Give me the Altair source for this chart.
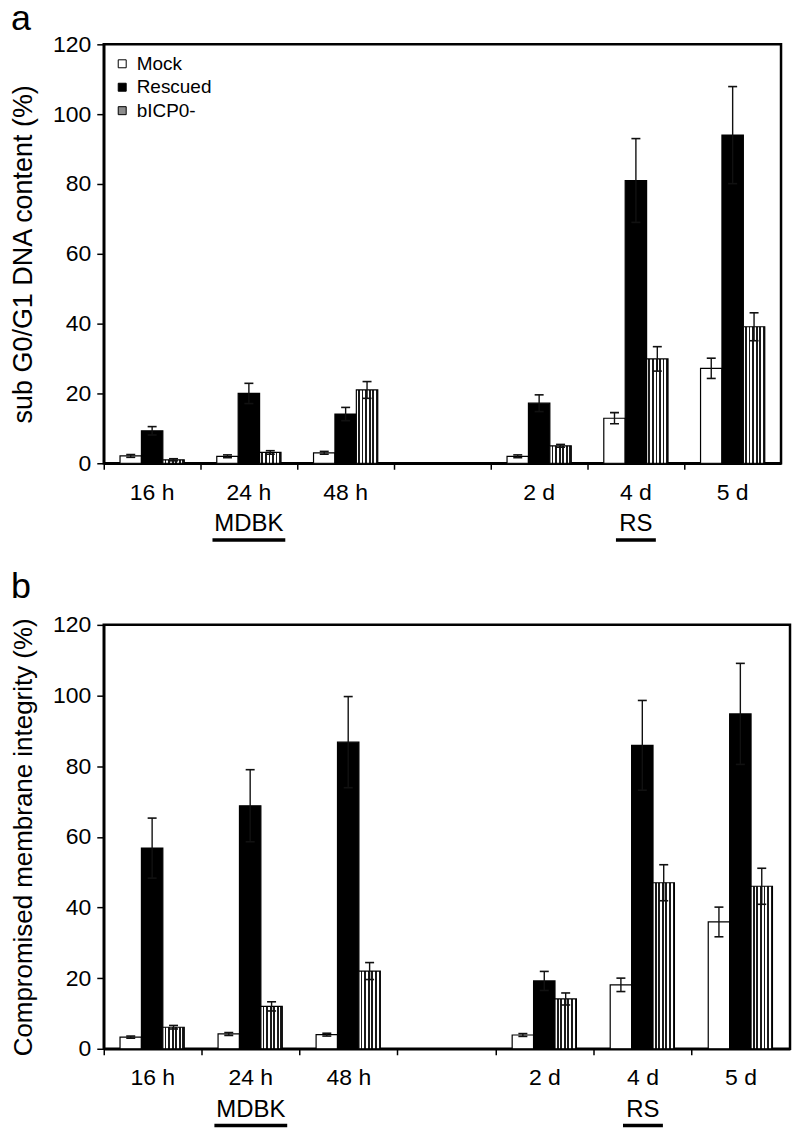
import altair as alt
import pandas as pd

FONT = "Liberation Sans"

categories = ["16 h", "24 h", "48 h", " ", "2 d", "4 d", "5 d"]
time_points = ["16 h", "24 h", "48 h", "2 d", "4 d", "5 d"]
series = ["Mock", "Rescued", "bICP0-"]

# Panel a: sub G0/G1 DNA content (%)
a_mock = [2.1, 2.0, 3.0, 2.0, 12.9, 27.2]
a_mock_err = [0.4, 0.4, 0.4, 0.4, 1.6, 2.9]
a_rescued = [9.3, 20.0, 14.1, 17.2, 81.0, 94.0]
a_rescued_err = [1.2, 2.9, 1.9, 2.4, 12.0, 13.9]
a_bicp0 = [1.0, 3.1, 21.0, 5.0, 29.9, 39.1]
a_bicp0_err = [0.3, 0.5, 2.4, 0.4, 3.5, 4.0]

# Panel b: compromised membrane integrity (%)
b_mock = [3.3, 4.2, 4.0, 3.9, 18.1, 35.9]
b_mock_err = [0.3, 0.4, 0.4, 0.4, 1.9, 4.2]
b_rescued = [56.8, 68.8, 86.8, 19.2, 85.9, 94.8]
b_rescued_err = [8.5, 10.2, 12.9, 2.7, 12.7, 14.3]
b_bicp0 = [6.1, 12.0, 22.0, 14.1, 47.0, 46.0]
b_bicp0_err = [0.5, 1.3, 2.4, 1.7, 5.1, 5.1]

group_times = ["24 h", "4 d"]
group_names = ["MDBK", "RS"]
panel_letters = ["a", "b"]


def long_df(vals, errs):
    rows = []
    for s, v, e in zip(series, vals, errs):
        for t, vv, ee in zip(time_points, v, e):
            rows.append({"time": t, "series": s, "value": vv,
                         "lo": vv - ee, "hi": vv + ee})
    return pd.DataFrame(rows)


df_a = long_df([a_mock, a_rescued, a_bicp0], [a_mock_err, a_rescued_err, a_bicp0_err])
df_b = long_df([b_mock, b_rescued, b_bicp0], [b_mock_err, b_rescued_err, b_bicp0_err])
df_groups = pd.DataFrame({"time": group_times, "label": group_names})

# striped fill imitating the hatch pattern
stops = []
n = 6
for i in range(n):
    s0 = i / n
    mid = s0 + 0.5 / n
    s1 = (i + 1) / n
    stops += [alt.GradientStop(offset=s0, color="white"),
              alt.GradientStop(offset=mid, color="white"),
              alt.GradientStop(offset=mid, color="#1a1a1a"),
              alt.GradientStop(offset=s1, color="#1a1a1a")]
pattern = alt.LinearGradient(gradient="linear", stops=stops, x1=0, x2=1, y1=0, y2=0)

underline_w = {"MDBK": 73, "RS": 40}


def panel(df, W, H, ytitle, title_fs, title_pad, letter, pad_outer, lx, ly, loff, letter_y):
    xscale = alt.Scale(domain=categories, paddingInner=0, paddingOuter=0)
    xaxis = alt.Axis(title=None, bandPosition=0,
                     tickSize=6, tickWidth=1.5, tickColor="black",
                     domainColor="black", domainWidth=2.5,
                     labelFont=FONT, labelFontSize=23, labelColor="black",
                     labelPadding=30, labelBaseline="alphabetic", labelAngle=0,
                     grid=False)
    yscale = alt.Scale(domain=[0, 120], nice=False)
    yaxis = alt.Axis(title=ytitle, values=[0, 20, 40, 60, 80, 100, 120],
                     titleFont=FONT, titleFontSize=title_fs, titleFontWeight="normal",
                     titleColor="black", titlePadding=title_pad,
                     tickSize=7, tickWidth=1.5, tickColor="black",
                     domainColor="black", domainWidth=2.5,
                     labelFont=FONT, labelFontSize=23, labelColor="black",
                     labelPadding=6, grid=False)

    def X():
        return alt.X("time:N", scale=xscale, axis=xaxis)

    def XO():
        return alt.XOffset("series:N", scale=alt.Scale(domain=series, paddingInner=0,
                                                        paddingOuter=pad_outer))

    def Y(field):
        return alt.Y(field, scale=yscale, axis=yaxis, title=ytitle)

    base = alt.Chart(df)
    fill = alt.Fill("series:N",
                    scale=alt.Scale(domain=series, range=["white", "black", "#8c8c8c"]),
                    legend=alt.Legend(title=None, orient="none", legendX=lx, legendY=ly,
                                      symbolType="square", symbolSize=64,
                                      symbolStrokeColor="black", symbolStrokeWidth=1,
                                      labelFont=FONT, labelFontSize=19, labelColor="black",
                                      labelOffset=loff, rowPadding=3.5, padding=0))
    mock = base.transform_filter(alt.datum.series == "Mock").mark_bar(
        stroke="black", strokeWidth=1.2).encode(x=X(), xOffset=XO(), y=Y("value:Q"), fill=fill)
    resc = base.transform_filter(alt.datum.series == "Rescued").mark_bar(
        stroke="black", strokeWidth=1.2).encode(x=X(), xOffset=XO(), y=Y("value:Q"), fill=fill)
    bicp = base.transform_filter(alt.datum.series == "bICP0-").mark_bar(
        fill=pattern, stroke="black", strokeWidth=1.2).encode(x=X(), xOffset=XO(), y=Y("value:Q"))
    err = base.mark_rule(color="#111111", strokeWidth=1.4).encode(
        x=X(), xOffset=XO(), y=Y("lo:Q"), y2="hi:Q")
    cap_hi = base.mark_tick(color="#111111", thickness=1.6, size=9, opacity=1).encode(
        x=X(), xOffset=XO(), y=Y("hi:Q"))
    cap_lo = base.mark_tick(color="#111111", thickness=1.6, size=9, opacity=1).encode(
        x=X(), xOffset=XO(), y=Y("lo:Q"))
    gtext = alt.Chart(df_groups).mark_text(
        font=FONT, fontSize=24, baseline="alphabetic", align="center", color="black"
    ).encode(x=X(), y=alt.value(H + 68), text="label:N")
    layers = [mock, resc, bicp, err, cap_hi, cap_lo, gtext]
    for name in group_names:
        ul = alt.Chart(df_groups).transform_filter(alt.datum.label == name).mark_tick(
            orient="horizontal", size=underline_w[name], thickness=3.5, color="black",
            opacity=1
        ).encode(x=X(), y=alt.value(H + 77))
        layers.append(ul)
    letter_mark = alt.Chart(pd.DataFrame({"t": [letter]})).mark_text(
        font=FONT, fontSize=36, baseline="alphabetic", align="left", color="black"
    ).encode(text="t:N", x=alt.value(-93), y=alt.value(letter_y))
    layers.append(letter_mark)
    return alt.layer(*layers).properties(width=W, height=H)


pa = panel(df_a, 679, 420, "sub G0/G1 DNA content (%)", 27, 15, panel_letters[0],
           0.76, 9, 10, 5, -14)
pb = panel(df_b, 688, 425, "Compromised membrane integrity (%)", 26, 16, panel_letters[1],
           0.69, 6, 7, 2, -27)

chart = alt.vconcat(pa, pb, spacing=24).properties(
    padding={"left": 0, "top": -10, "right": 0, "bottom": 0}
).configure_view(stroke="black", strokeWidth=2.5)

chart.save("out.html", embed_options={"renderer": "svg", "actions": False})
